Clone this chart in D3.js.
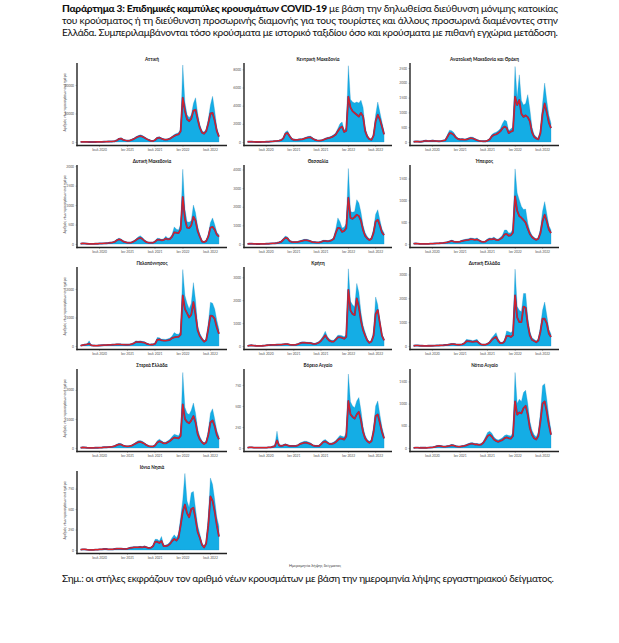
<!DOCTYPE html>
<html><head><meta charset="utf-8">
<script src="https://cdn.jsdelivr.net/npm/d3@7"></script>
<style>body{margin:0;background:#fff}</style>
</head><body><svg id="c" width="619" height="643"></svg>
<script>
// ---------- DATA ----------
const regionNames = ["Αττική","Κεντρική Μακεδονία","Ανατολική Μακεδονία και Θράκη",
  "Δυτική Μακεδονία","Θεσσαλία","Ήπειρος",
  "Πελοπόννησος","Κρήτη","Δυτική Ελλάδα",
  "Στερεά Ελλάδα","Βόρειο Αιγαίο","Νότιο Αιγαίο",
  "Ιόνια Νησιά"];
const firstPeriod = "2020-03-02";   // fortnightly periods
const periodDays = 14;
const xTickDates = ["2020-07-01","2021-01-01","2021-07-01","2022-01-01","2022-07-01"];
const xTickLabels = ["Ιουλ 2020","Ιαν 2021","Ιουλ 2021","Ιαν 2022","Ιουλ 2022"];
const yTicks = [[0,10000,20000],[0,2000,4000,6000,8000],[0,500,1000,1500,2000,2500],
  [0,500,1000,1500,2000],[0,1000,2000,3000,4000],[0,500,1000,1500],
  [0,1000,2000],[0,1000,2000,3000],[0,1000,2000,3000],
  [0,1000,2000],[0,250,500,750],[0,500,1000,1500],
  [0,250,500,750]];
const yMax = [27700,8700,2670,2030,4240,1810,2770,3450,3310,2720,940,1780,965];

// daily cases (bars, fortnight peak) and 7-day average (red line)
const casesAttiki = [40,90,70,40,20,15,20,30,40,50, 60,110,150,180,220,250,350,700,
  1300,1500,900,700,500,600,900,1300, 1800,2200,2500,2300,1800,1300,900,500,
  400,900,1700,1800,1400,1100,1000,1100, 1400,2000,2600,3000,3200,4500,
  27000,14000,9600,8500,9500,13500,15500,10000, 6000,4000,3400,4500,8000,13000,16000,11000,5000,2300];
const avgAttiki = [30,60,50,30,15,10,15,20,30,40, 50,90,120,150,180,200,280,550,
  1100,1200,750,550,420,480,750,1050, 1500,1850,2100,1900,1500,1050,700,400,
  330,700,1400,1500,1150,900,820,900, 1150,1650,2100,2500,2650,3800,
  15500,11000,8000,7300,8200,11000,11300,8000, 5000,3300,2900,3800,6500,10000,10200,7500,3800,1900];

const casesKMak = [30,50,30,15,10,10,10,15,20,30, 40,60,80,120,150,180,250,500,
  1100,1250,800,400,300,280,300,350, 350,450,550,620,630,450,300,220,
  180,200,280,400,500,550,650,800, 1000,1500,2000,2200,1300,1600,
  8400,4700,4400,4300,4400,4300,4600,3800, 1600,800,400,300,900,3000,4400,3300,2200,1100];
const avgKMak = [20,40,25,12,8,8,8,12,15,25, 30,50,65,100,120,150,200,400,
  900,1000,650,330,240,230,250,280, 290,370,450,500,520,370,250,180,
  150,160,230,330,410,450,530,650, 820,1200,1550,1700,1100,1250,
  5000,3800,3400,3200,3000,2800,3200,2800, 1200,600,320,240,700,2300,3000,2500,1700,850];

const casesAMTh = [10,20,20,15,20,50,60,40,50,60, 50,40,30,40,60,80,250,400,
  380,320,200,130,110,120,100,110, 140,170,160,120,80,50,35,30,
  30,60,120,250,300,330,380,450, 620,740,700,370,450,500,
  2550,1500,2270,1400,1250,1300,1600,1100, 500,250,170,120,400,1300,1990,1400,900,630];
const avgAMTh = [8,15,15,10,15,35,40,30,35,40, 35,30,25,30,45,60,180,300,
  290,240,150,100,85,90,80,85, 110,130,120,90,60,40,28,25,
  25,45,90,190,240,260,300,360, 460,520,480,300,350,380,
  1530,1250,1420,950,850,900,840,700, 330,180,120,90,300,950,1300,1000,650,470];

const casesDMak = [10,20,15,10,5,5,5,10,10,15, 15,20,25,30,40,50,70,120,
  150,130,80,60,40,40,50,80, 130,180,210,170,100,60,40,40,
  40,80,150,140,120,130,200,150, 160,250,440,380,360,500,
  1920,900,570,560,600,1000,800,450, 250,80,60,100,250,550,670,500,300,240];
const avgDMak = [8,15,12,8,4,4,4,8,8,12, 12,16,20,25,32,40,55,95,
  120,105,65,48,32,32,40,65, 100,140,160,130,80,48,32,32,
  32,60,110,110,95,100,140,120, 130,190,300,290,280,380,
  1210,650,420,410,480,700,600,330, 190,65,48,75,190,420,440,370,240,190];

const casesThes = [10,20,20,10,5,5,5,10,10,15, 20,30,40,50,70,100,150,300,
  430,380,200,140,130,130,140,180, 220,250,250,230,180,130,120,100,
  100,150,200,200,180,200,250,350, 800,1400,1200,860,900,1100,
  4050,1750,1700,1750,2380,2200,1700,1000, 600,400,270,350,800,1600,1840,1300,800,590];
const avgThes = [8,15,15,8,4,4,4,8,8,12, 15,25,32,40,55,80,120,230,
  330,300,160,110,100,100,110,140, 170,200,200,180,140,100,95,80,
  80,110,160,160,150,160,200,270, 600,860,850,650,700,850,
  2480,1400,1350,1450,1570,1500,1250,750, 430,300,210,280,600,1200,1300,1000,620,480];

const casesIpir = [10,15,10,5,5,5,5,5,10,10, 15,20,20,25,30,40,50,70,
  90,70,60,60,70,90,100,115, 120,140,130,120,140,100,70,60,
  70,120,140,130,160,120,110,150, 200,320,320,250,260,350,
  1720,1170,1010,860,790,800,480,300, 200,150,115,150,350,750,970,700,420,320];
const avgIpir = [8,12,8,4,4,4,4,4,8,8, 12,15,16,20,25,32,40,55,
  70,55,48,48,55,70,80,90, 95,110,105,95,105,80,55,48,
  55,90,110,105,120,95,90,115, 150,220,230,190,200,260,
  1090,760,640,600,550,490,350,230, 160,120,95,120,250,520,670,520,330,250];

const casesPelop = [20,40,60,70,180,30,20,15,20,25, 30,40,40,50,50,55,60,70,
  70,65,60,55,55,60,80,120, 180,170,180,160,150,100,70,60,
  60,100,300,290,240,240,230,250, 280,350,470,420,410,500,
  2680,1770,1500,1300,1500,2220,1600,700, 450,300,180,250,800,1530,1500,1300,900,590];
const avgPelop = [15,30,45,55,80,25,15,12,15,20, 25,30,32,40,40,45,50,55,
  58,52,48,45,45,50,65,95, 140,140,145,130,120,80,58,50,
  50,80,220,230,200,190,190,200, 220,280,300,320,320,400,
  1770,1300,1150,1000,1100,1540,1100,550, 350,240,150,200,600,1060,1050,950,650,430];

const casesKriti = [10,30,40,20,10,5,5,10,20,40, 50,60,60,60,70,80,80,90,
  100,100,80,60,60,70,100,150, 180,180,170,160,160,130,110,150,
  200,300,450,640,420,300,250,250, 350,470,470,450,400,500,
  3370,1950,1800,1700,2730,2340,1470,900, 600,320,180,250,600,2140,1800,1000,500,320];
const avgKriti = [8,20,30,15,8,4,4,8,15,30, 40,45,48,48,55,60,62,70,
  80,80,62,48,48,55,80,120, 140,145,135,125,125,100,85,110,
  150,230,340,470,320,230,190,190, 280,380,380,360,320,400,
  2450,1550,1400,1350,2080,1700,1100,700, 450,250,140,200,450,1400,1570,1000,450,250];

const casesDEll = [10,30,30,15,10,5,5,10,10,15, 20,30,30,35,40,50,60,80,
  100,100,80,70,70,90,150,280, 260,250,220,250,280,150,80,70,
  70,120,200,350,450,560,300,150, 150,250,630,600,550,650,
  3220,1650,1500,1430,2200,2200,1200,600, 350,280,210,300,800,1500,1840,1300,700,500];
const avgDEll = [8,20,22,12,8,4,4,8,8,12, 15,22,24,28,32,40,48,65,
  80,80,65,55,55,70,110,200, 200,190,170,190,200,120,65,55,
  55,90,150,260,330,380,220,120, 120,190,420,420,380,450,
  2120,1200,1000,1000,1650,1600,900,450, 260,210,160,230,600,1140,1140,950,520,380];

const casesStEll = [10,30,20,10,5,5,5,10,10,15, 20,30,30,40,50,60,80,130,
  160,150,100,80,70,80,100,150, 200,250,260,230,180,120,80,60,
  60,120,250,300,250,200,200,250, 300,400,470,450,420,550,
  2600,1400,1200,1150,1300,1550,1200,650, 400,250,180,230,600,1200,1350,1000,600,400];
const avgStEll = [8,22,15,8,4,4,4,8,8,12, 15,24,25,32,40,48,65,100,
  125,120,80,65,55,65,80,120, 160,200,210,185,145,95,65,50,
  50,90,190,230,200,160,160,200, 240,310,360,350,330,420,
  1500,1000,900,850,950,1100,880,480, 300,200,140,190,450,880,950,750,450,300];

const casesBAig = [5,10,10,5,5,5,5,5,5,5, 10,10,20,30,200,40,30,40,
  50,40,30,30,30,30,40,60, 70,80,80,70,60,40,30,30,
  30,60,90,100,80,60,60,70, 90,120,150,140,130,180,
  880,550,500,480,560,600,450,250, 150,100,80,100,250,500,560,400,250,150];
const avgBAig = [4,8,8,4,4,4,4,4,4,4, 8,8,15,22,90,30,24,30,
  40,32,24,24,24,24,32,48, 55,62,62,55,48,32,24,24,
  24,45,70,78,62,48,48,55, 70,95,115,110,100,140,
  560,400,370,350,400,430,330,190, 115,80,62,80,190,380,400,300,190,115];

const casesNAig = [5,10,10,5,5,5,5,10,15,20, 30,50,60,50,40,40,50,60,
  80,70,50,40,40,50,60,80, 100,120,120,100,100,90,100,150,
  250,350,380,330,250,200,180,200, 230,280,300,280,270,350,
  1700,1000,1100,1050,1250,1300,1000,600, 400,300,250,350,800,1400,1450,1100,700,400];
const avgNAig = [4,8,8,4,4,4,4,8,12,15, 24,40,48,40,32,32,40,48,
  62,55,40,32,32,40,48,62, 80,95,95,80,80,70,80,120,
  190,270,300,260,190,160,140,160, 180,220,240,220,210,270,
  1050,750,800,780,900,950,750,450, 300,220,190,270,600,1000,1050,820,520,300];

const casesIon = [5,10,10,5,3,3,3,5,5,10, 10,15,15,10,10,10,15,20,
  20,20,15,15,20,30,35,40, 40,40,45,40,50,40,30,35,
  60,130,130,110,165,60,60,70, 100,150,185,150,200,400,
  615,935,600,520,700,715,500,300, 200,85,40,100,400,880,800,615,400,290];
const avgIon = [4,8,8,4,2,2,2,4,4,8, 8,12,12,8,8,8,12,16,
  16,16,12,12,16,24,28,32, 32,32,36,32,40,32,24,28,
  45,100,100,85,110,48,48,55, 75,110,135,115,150,300,
  470,555,450,400,500,515,380,220, 150,65,32,80,300,655,600,470,300,165];

const casesAll = [casesAttiki,casesKMak,casesAMTh,casesDMak,casesThes,casesIpir,casesPelop,casesKriti,casesDEll,casesStEll,casesBAig,casesNAig,casesIon];
const avgAll = [avgAttiki,avgKMak,avgAMTh,avgDMak,avgThes,avgIpir,avgPelop,avgKriti,avgDEll,avgStEll,avgBAig,avgNAig,avgIon];

const yAxisTitle = "Αριθμός νέων κρουσμάτων ανά ημέρα";
const xAxisTitle = "Ημερομηνία λήψης δείγματος";
const titleLines = [
  ["Παράρτημα 3: Επιδημικές καμπύλες κρουσμάτων COVID-19", " με βάση την δηλωθείσα διεύθυνση μόνιμης κατοικίας"],
  ["", "του κρούσματος ή τη διεύθυνση προσωρινής διαμονής για τους τουρίστες και άλλους προσωρινά διαμένοντες στην"],
  ["", "Ελλάδα. Συμπεριλαμβάνονται τόσο κρούσματα με ιστορικό ταξιδίου όσο και κρούσματα με πιθανή εγχώρια μετάδοση."]
];
const noteText = "Σημ.: οι στήλες εκφράζουν τον αριθμό νέων κρουσμάτων με βάση την ημερομηνία λήψης εργαστηριακού δείγματος.";

// ---------- DRAW ----------
const svg = d3.select("#c");
svg.append("rect").attr("width",619).attr("height",643).attr("fill","#fff");
const font = "Lato, 'Noto Sans', 'DejaVu Sans', sans-serif";
const pf = d3.utcParse("%Y-%m-%d");
const t0 = pf(firstPeriod);
const dates = d3.range(66).map(k => d3.utcDay.offset(t0, k*periodDays));
const tickD = xTickDates.map(pf);

// title
titleLines.forEach((ln,i)=>{
  const t = svg.append("text").attr("x",62).attr("y",11.5+12*i)
    .attr("font-family",font).attr("font-size",10.2).attr("fill","#111")
    .attr("textLength",496).attr("lengthAdjust","spacing");
  if (ln[0]) t.append("tspan").attr("font-weight","900").text(ln[0]);
  t.append("tspan").text(ln[1]);
});
svg.append("text").attr("x",62).attr("y",581.5).attr("font-family",font)
  .attr("font-size",10.2).attr("fill","#111").attr("textLength",492)
  .attr("lengthAdjust","spacing").text(noteText);
svg.append("text").attr("x",315).attr("y",567).attr("text-anchor","middle")
  .attr("font-family",font).attr("font-size",3.9).attr("fill","#444").text(xAxisTitle);

const colX = [77,244,410], colW = [150,148,149];
regionNames.forEach((name,i)=>{
  const r = Math.floor(i/3), c = i%3;
  const titleY = 59 + 102*r;
  const x0 = colX[c], w = colW[c];
  const top = titleY + 4, bottom = titleY + 86.5, zero = bottom - 3.5;
  const x = d3.scaleUtc().domain([pf("2020-02-07"), pf("2022-10-21")]).range([x0, x0+w]);
  const y = d3.scaleLinear().domain([0, yMax[i]]).range([zero, top]);
  const g = svg.append("g");
  const data = dates.map((d,k)=>({d, v: casesAll[i][k], a: avgAll[i][k]}));

  g.append("path").datum(data)
    .attr("d", d3.area().x(p=>x(p.d)).y0(zero).y1(p=>y(p.v)))
    .attr("fill","#14ADE5").attr("stroke","#1f8fc4").attr("stroke-width",0.3);
  g.append("path").datum(data)
    .attr("d", d3.line().x(p=>x(p.d)).y(p=>y(p.a)))
    .attr("fill","none").attr("stroke","#4f4384").attr("stroke-width",1.9).attr("stroke-linejoin","round");
  g.append("path").datum(data)
    .attr("d", d3.line().x(p=>x(p.d)).y(p=>y(p.a)))
    .attr("fill","none").attr("stroke","#dc1f26").attr("stroke-width",1.15).attr("stroke-linejoin","round");

  // axes
  const ya = g.append("g").attr("transform",`translate(${x0},0)`)
    .call(d3.axisLeft(y).tickValues(yTicks[i]).tickSize(1.5).tickPadding(1.5).tickFormat(d3.format("d")));
  ya.select(".domain").remove();
  ya.selectAll("line").attr("stroke","#666").attr("stroke-width",0.4);
  ya.selectAll("text").attr("font-size",3.3).attr("font-family",font).attr("fill","#555");
  const xa = g.append("g").attr("transform",`translate(0,${bottom})`)
    .call(d3.axisBottom(x).tickValues(tickD).tickSize(1.5).tickPadding(1.5).tickFormat((d,k)=>xTickLabels[k]));
  xa.select(".domain").remove();
  xa.selectAll("line").attr("stroke","#666").attr("stroke-width",0.4);
  xa.selectAll("text").attr("font-size",3.3).attr("font-family",font).attr("fill","#555");
  g.append("line").attr("x1",x0).attr("x2",x0).attr("y1",top).attr("y2",bottom+0.7)
    .attr("stroke","#222").attr("stroke-width",1.4);
  g.append("line").attr("x1",x0-0.7).attr("x2",x0+w).attr("y1",bottom).attr("y2",bottom)
    .attr("stroke","#222").attr("stroke-width",1.4);

  g.append("text").attr("x",x0+w/2).attr("y",titleY+1.5).attr("text-anchor","middle")
    .attr("font-family",font).attr("font-weight","bold").attr("font-size",4.6).attr("fill","#111").text(name);
  if (c===0) {
    g.append("text").attr("transform",`translate(${x0-11},${(top+zero)/2}) rotate(-90)`)
      .attr("text-anchor","middle").attr("font-family",font).attr("font-size",3.4)
      .attr("fill","#333").text(yAxisTitle);
  }
});
</script></body></html>
